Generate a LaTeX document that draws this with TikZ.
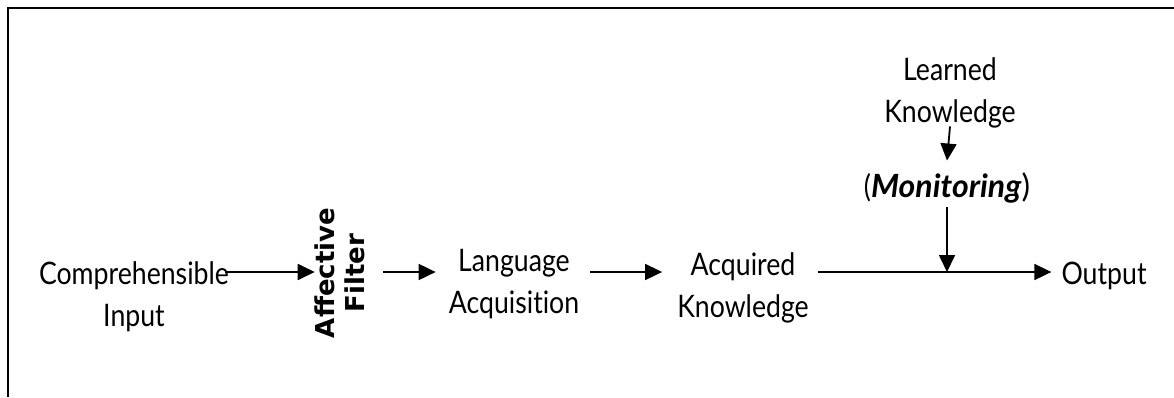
\documentclass[tikz,border=0pt]{standalone}
\usepackage{fontspec}
\setmainfont{Lato}[FakeStretch=0.86, Ligatures=NoCommon]
\newfontfamily\latow{Lato}[Ligatures=NoCommon]
\newfontfamily\dvs{DejaVu Sans}
\usetikzlibrary{arrows.meta}
\begin{document}
\begin{tikzpicture}[x=1pt,y=-1pt,
  lbl/.style={font=\fontsize{31}{42}\selectfont, align=center, inner sep=0pt},
  filt/.style={font=\dvs\bfseries\fontsize{26}{30}\selectfont, align=center, inner sep=0pt, rotate=90},
  arr/.style={line width=1.8pt, -{Triangle[length=17pt,width=16pt]}}]
\useasboundingbox (0,0) rectangle (1174,397);
\fill[white] (0,0) rectangle (1174,397);
\draw[line width=2pt] (8,397) -- (8,8) -- (1174,8);
\coordinate (row) at (0,272);
\node[lbl] (ci) at (134,297) {Comprehensible\\Input};
\node[filt] (af) at (340,273) {Affective\\Filter};
\node[lbl] (la) at (514,284) {Language\\Acquisition};
\node[lbl] (ak) at (743,288) {Acquired\\Knowledge};
\node[lbl] (out) at (1104,276) {Output};
\node[lbl] (lk) at (950,93) {Learned\\Knowledge};
\node[lbl] (mon) at (947,188) {(\latow\fontsize{32}{40}\selectfont\textbf{\textit{Monitoring}})};
\coordinate (jn) at (mon.south |- row);
\draw[arr] ([xshift=-4pt]ci.east |- row) -- (af.north |- row);
\draw[arr] ([xshift=18pt]af.south |- row) -- ([xshift=-13pt]la.west |- row);
\draw[arr] ([xshift=11pt]la.east |- row) -- ([xshift=-15pt]ak.west |- row);
\draw[arr] ([xshift=9pt]ak.east |- row) -- ([xshift=-10pt]out.west |- row);
\draw[arr] ([yshift=2pt]lk.south) -- ([yshift=12pt]mon.north);
\draw[arr] ([yshift=-4pt]mon.south) -- (jn);
\end{tikzpicture}
\end{document}
